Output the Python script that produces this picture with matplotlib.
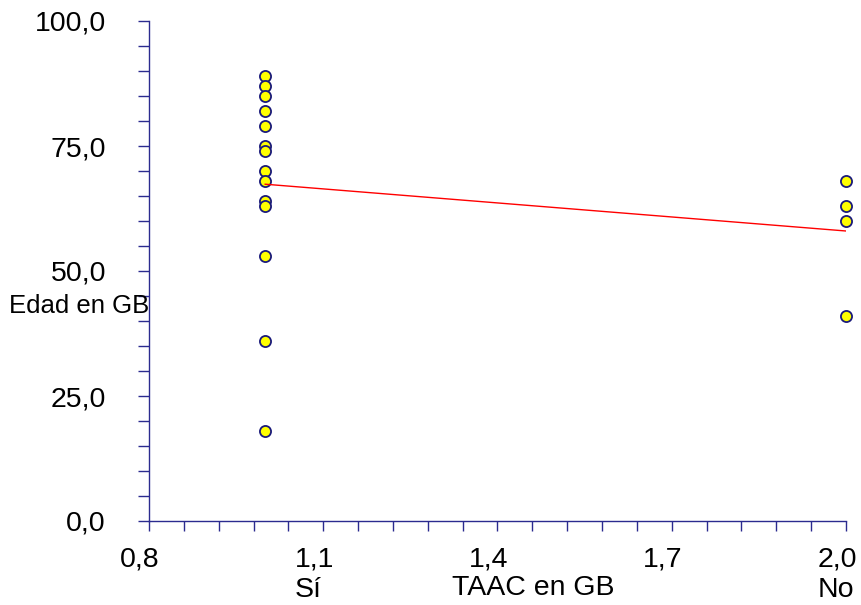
import numpy as np
import matplotlib.pyplot as plt
from matplotlib.ticker import FixedLocator, FuncFormatter, MultipleLocator
from matplotlib import transforms

plt.rcParams['font.family'] = ['Liberation Sans', 'DejaVu Sans']

# edad en el momento del GB, agrupada por TAAC (1 = Sí, 2 = No)
edad_si = [89, 87, 85, 82, 79, 75, 74, 70, 68, 64, 63, 53, 36, 18]
edad_no = [68, 63, 60, 41]
grupos = [1.0, 2.0]
# texto extra bajo algunas marcas del eje x
extra_x = {1.1: 'Sí', 2.0: 'No'}

x = np.array([grupos[0]] * len(edad_si) + [grupos[1]] * len(edad_no))
y = np.array(edad_si + edad_no, dtype=float)

azul = '#2b2b8f'

fig = plt.figure(figsize=(8.61, 6.05), dpi=100)
ax = fig.add_axes([149 / 861, 1 - 521 / 605, 697 / 861, 500 / 605])

ax.plot(x, y, 'o', ms=8, mfc='#ffff00', mec='#1a1a7a', mew=1.3, zorder=3,
        clip_on=False)

# recta de regresion
b, a = np.polyfit(x, y, 1)
xr = np.array(grupos)
ax.plot(xr, a + b * xr, color='red', lw=1, zorder=4)

ax.set_xlim(0.8, 2.0)
ax.set_ylim(0, 100)
ax.xaxis.set_major_locator(FixedLocator(np.linspace(0.8, 2.0, 5)))
ax.xaxis.set_minor_locator(FixedLocator(np.linspace(0.8, 2.0, 21)))
ax.yaxis.set_major_locator(MultipleLocator(25))
ax.yaxis.set_minor_locator(MultipleLocator(5))


def fmt_x(v, p):
    s = f'{v:.1f}'.replace('.', ',')
    for k, t in extra_x.items():
        if abs(v - k) < 1e-6:
            s += '\n' + t
    return s


ax.xaxis.set_major_formatter(FuncFormatter(fmt_x))
ax.yaxis.set_major_formatter(FuncFormatter(lambda v, p: f'{v:.1f}'.replace('.', ',')))

for s in ['top', 'right']:
    ax.spines[s].set_visible(False)
for s in ['left', 'bottom']:
    ax.spines[s].set_color(azul)
    ax.spines[s].set_linewidth(1)

ax.tick_params(which='both', direction='out', color=azul, width=1)
ax.tick_params(axis='y', which='both', length=8, labelsize=20.5, pad=23)
ax.tick_params(axis='x', which='both', length=7, labelsize=20.5, pad=11)

# etiquetas del eje x algo desplazadas a la izquierda
off = transforms.ScaledTranslation(-9 / 100, 0, fig.dpi_scale_trans)
fig.canvas.draw()
for lab in ax.get_xticklabels():
    lab.set_transform(lab.get_transform() + off)
    lab.set_linespacing(1.25)
    lab.set_multialignment('left')
    lab.set_verticalalignment('top')

fig.text(533 / 861, 1 - 588 / 605, 'TAAC en GB', ha='center', va='center',
         fontsize=20.5)
fig.text(9 / 861, 1 - 306 / 605, 'Edad en GB', ha='left', va='center',
         fontsize=18.5)

fig.savefig('out.png', dpi=100)
